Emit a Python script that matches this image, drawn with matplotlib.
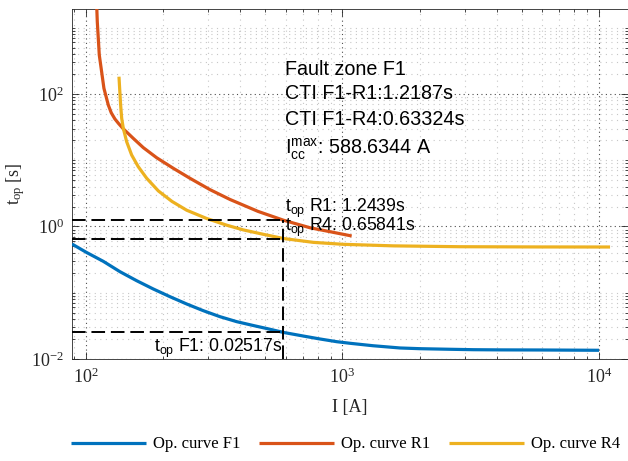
import matplotlib
matplotlib.use("Agg")
import matplotlib.pyplot as plt
from matplotlib.ticker import LogLocator, NullFormatter

# ── operating curves (current in A, operating time in s) ────────────────────
i_f1 = [88.2, 100.6, 116.8, 135.7, 157.6, 183.0, 212.5, 247.0, 286.6, 333.0,
        386.8, 449.0, 521.6, 588.6344, 703.4, 817.2, 949.3, 1069, 1315, 1676,
        2005, 2625, 3236, 4112, 5888, 10000]
t_f1 = [0.544, 0.405, 0.298, 0.2078, 0.152, 0.1139, 0.0872, 0.0676, 0.0536,
        0.0435, 0.0366, 0.0320, 0.0281, 0.02517, 0.0222, 0.02004, 0.01824,
        0.01726, 0.01585, 0.01466, 0.0143, 0.01401, 0.01381, 0.01372, 0.01367,
        0.01353]

i_r1 = [110.1, 110.7, 111.7, 112.7, 115.1, 117.5, 122.2, 125.5, 129.7, 134.2,
        139.8, 152.9, 167.3, 188.7, 219.0, 254.4, 304.4, 364.1, 468.5,
        588.6344, 747, 1086]
t_r1 = [2205, 1234, 693, 388, 217, 121.9, 68.2, 52.0, 41.9, 35.6,
        29.8, 21.4, 15.5, 10.9, 7.56, 5.34, 3.60, 2.56, 1.69,
        1.2439, 0.957, 0.719]

i_r4 = [134.5, 135.3, 136.5, 137.8, 139.8, 144.1, 150.7, 159.9, 172.5, 191.4,
        216.4, 247.0, 295.5, 353.7, 410.6, 491.3, 588.6344, 769.6, 1007, 1578,
        2871, 5888, 11040]
t_r4 = [182.4, 121.9, 68.2, 43.0, 30.4, 19.05, 12.0, 7.99, 5.34, 3.45,
        2.39, 1.76, 1.32, 1.046, 0.888, 0.762, 0.65841, 0.576, 0.538, 0.510,
        0.495, 0.491, 0.490]

labels = ["Op. curve F1", "Op. curve R1", "Op. curve R4"]
colors = ["#0072BD", "#D95319", "#EDB120"]

# fault case
i_cc_max = 588.6344
top_f1 = 0.02517
top_r1 = 1.2439
top_r4 = 0.65841
cti_r1 = 1.2187
cti_r4 = 0.63324

XLIM = (88.2, 12970)
YLIM = (1e-2, 1919)

SERIF = "Liberation Serif"
SANS = "Liberation Sans"
AX_COL = (0.15, 0.15, 0.15)


def main():
    fig = plt.figure(figsize=(6.28, 4.61), dpi=100)
    ax = fig.add_axes([0.1146, 0.2213, 0.8854, 0.7592])
    ax.set_xscale("log")
    ax.set_yscale("log")
    ax.set_xlim(*XLIM)
    ax.set_ylim(*YLIM)

    lines = []
    for x, y, c in zip([i_f1, i_r1, i_r4], [t_f1, t_r1, t_r4], colors):
        ln, = ax.plot(x, y, color=c, lw=2.3, solid_capstyle="butt",
                      solid_joinstyle="round", zorder=3)
        lines.append(ln)

    # guide lines at the maximum fault current
    dash = dict(color="black", lw=1.4, dashes=(7, 3), zorder=4)
    for t in (top_r1, top_r4, top_f1):
        ax.plot([XLIM[0], i_cc_max], [t, t], **dash)
    ax.plot([i_cc_max, i_cc_max], [YLIM[0], top_r1], **dash)

    ax.annotate(r"$\mathdefault{t_{op}}$" + f" R1: {top_r1:.5g}s",
                (i_cc_max, top_r1), xytext=(1, 0), textcoords="offset points",
                ha="left", va="bottom", family=SANS, fontsize=12.7, zorder=5)
    ax.annotate(r"$\mathdefault{t_{op}}$" + f" R4: {top_r4:.5g}s",
                (i_cc_max, top_r4), xytext=(1, 0), textcoords="offset points",
                ha="left", va="bottom", family=SANS, fontsize=12.7, zorder=5)
    ax.annotate(r"$\mathdefault{t_{op}}$" + f" F1: {top_f1:.4g}s",
                (i_cc_max, top_f1), xytext=(-1, -3), textcoords="offset points",
                ha="right", va="top", family=SANS, fontsize=12.7, zorder=5)

    info = [
        ("Fault zone F1", 238),
        (f"CTI F1-R1:{cti_r1:.5g}s", 103.5),
        (f"CTI F1-R4:{cti_r4:.5g}s", 41.9),
        (r"$\mathdefault{I_{cc}^{max}}$" + f": {i_cc_max:.10g} A", 14.8),
    ]
    for txt, y in info:
        ax.annotate(txt, (i_cc_max, y), xytext=(1, 0), textcoords="offset points",
                    ha="left", va="center", family=SANS, fontsize=14.2)

    # axes styling: ticks inside on every side, dotted major + minor grid
    ax.yaxis.set_major_locator(LogLocator(base=100, numticks=10))
    ax.yaxis.set_minor_locator(LogLocator(base=10, subs=range(1, 10), numticks=20))
    ax.yaxis.set_minor_formatter(NullFormatter())
    ax.xaxis.set_minor_locator(LogLocator(base=10, subs=range(2, 10), numticks=20))
    ax.xaxis.set_minor_formatter(NullFormatter())

    ax.grid(True, which="major", ls=(0, (1, 3)), lw=0.8, color="black", alpha=0.7)
    ax.grid(True, which="minor", ls=(0, (1, 4)), lw=0.8, color="0.6", alpha=0.55)
    ax.set_axisbelow(True)

    ax.tick_params(which="both", direction="in", top=True, right=True,
                   color=AX_COL, labelcolor=AX_COL, width=0.6)
    ax.tick_params(which="major", length=5, labelsize=13, pad=6)
    ax.tick_params(which="minor", length=2.5)
    for lab in ax.get_xticklabels() + ax.get_yticklabels():
        lab.set_family(SERIF)
    for s in ax.spines.values():
        s.set_color(AX_COL)
        s.set_linewidth(0.6)

    ax.set_xlabel("I [A]", family=SERIF, fontsize=13, color=AX_COL, labelpad=9)
    ax.set_ylabel(r"$\mathdefault{t_{op}}$ [s]", family=SERIF, fontsize=13,
                  color=AX_COL, labelpad=3)

    fig.legend(lines, labels, loc="center", bbox_to_anchor=(0.55, 0.036),
               ncol=3, frameon=False, handlelength=4.5, handletextpad=0.45,
               columnspacing=1.1, prop={"family": SERIF, "size": 12})

    fig.savefig("out.png", dpi=100)
    plt.close(fig)


if __name__ == "__main__":
    main()
